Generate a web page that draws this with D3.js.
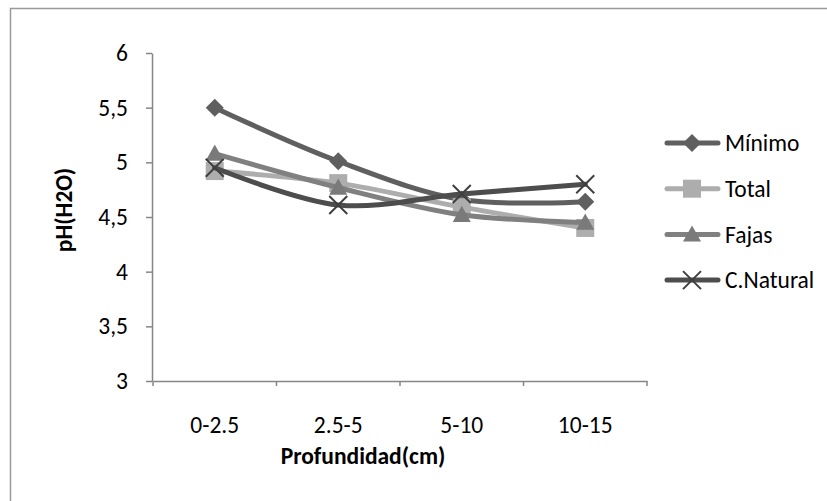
<!DOCTYPE html>
<meta charset="utf-8">
<script src="https://d3js.org/d3.v7.min.js"></script>
<style>
  body { margin: 0; background: #fff; }
  text { font-family: Calibri, Carlito, Lato, sans-serif; fill: #000; }
</style>
<div id="my_dataviz"></div>
<script>

    // categories and values
    var categories = ["0-2.5", "2.5-5", "5-10", "10-15"];
    var yTicks = [3, 3.5, 4, 4.5, 5, 5.5, 6];

    var minimo   = [5.50, 5.01, 4.66, 4.64];
    var total    = [4.92, 4.81, 4.59, 4.40];
    var fajas    = [5.08, 4.77, 4.52, 4.45];
    var cnatural = [4.95, 4.61, 4.71, 4.80];

    var seriesNames = ["Mínimo", "Total", "Fajas", "C.Natural"];

    var series = [
        { name: seriesNames[0], values: minimo,   color: "#5f5f5f", marker: "diamond" },
        { name: seriesNames[1], values: total,    color: "#adadad", marker: "square" },
        { name: seriesNames[2], values: fajas,    color: "#808080", marker: "triangle" },
        { name: seriesNames[3], values: cnatural, color: "#4d4d4d", marker: "x" }
    ];

    var W = 827, H = 501;
    var fontSize = 23.5;
    var svg = d3.select("#my_dataviz")
        .append("svg")
        .attr("width", W)
        .attr("height", H);

    svg.append("rect").attr("width", W).attr("height", H).attr("fill", "#fff");

    // chart border (runs off the right / bottom of the picture)
    svg.append("rect")
        .attr("x", 10.5).attr("y", 8.5)
        .attr("width", 840).attr("height", 520)
        .attr("fill", "none")
        .attr("stroke", "#9a9a9a")
        .attr("stroke-width", 1.5);

    var x = d3.scaleBand().domain(categories).range([153, 647]);
    var y = d3.scaleLinear().domain([3, 6]).range([381, 53]);

    var axisColor = "#868686";

    // Y axis
    var yAxis = svg.append("g")
        .attr("transform", "translate(152,0)")
        .call(d3.axisLeft(y)
            .tickValues(yTicks)
            .tickSize(6)
            .tickSizeOuter(0)
            .tickPadding(18)
            .tickFormat(function (d) { return String(d).replace(".", ","); }));
    yAxis.select(".domain").attr("stroke", axisColor).attr("stroke-width", 1.5);
    yAxis.selectAll(".tick line").attr("stroke", axisColor).attr("stroke-width", 1.5);
    yAxis.selectAll(".tick text").attr("font-size", fontSize).attr("fill", "#000")
        .style("font-family", "Calibri, Carlito, Lato, sans-serif");

    // X axis: line plus ticks on the band edges
    var xAxis = svg.append("g")
        .attr("transform", "translate(0,381)")
        .call(d3.axisBottom(x).tickSize(0).tickPadding(35));
    xAxis.select(".domain").attr("stroke", axisColor).attr("stroke-width", 1.5);
    xAxis.selectAll(".tick text").attr("font-size", fontSize).attr("fill", "#000")
        .style("font-family", "Calibri, Carlito, Lato, sans-serif");

    var edges = categories.map(function (c) { return x(c); }).concat([x.range()[1]]);
    xAxis.selectAll(".edge")
        .data(edges)
        .enter().append("line")
        .attr("x1", function (d) { return d; })
        .attr("x2", function (d) { return d; })
        .attr("y1", 0).attr("y2", 5)
        .attr("stroke", axisColor).attr("stroke-width", 1.5);

    // axis titles
    svg.append("text")
        .attr("x", 363).attr("y", 464)
        .attr("text-anchor", "middle")
        .attr("font-size", fontSize).attr("font-weight", "bold")
        .text("Profundidad(cm)");

    svg.append("text")
        .attr("transform", "translate(72,210) rotate(-90)")
        .attr("text-anchor", "middle")
        .attr("font-size", fontSize).attr("font-weight", "bold")
        .text("pH(H2O)");

    // marker drawing
    function marker(g, type, cx, cy, color) {
        if (type === "diamond") {
            var r = 9;
            g.append("path")
                .attr("d", "M" + cx + "," + (cy - r) + "L" + (cx + r) + "," + cy +
                    "L" + cx + "," + (cy + r) + "L" + (cx - r) + "," + cy + "Z")
                .attr("fill", color);
        } else if (type === "square") {
            var s = 9;
            g.append("rect")
                .attr("x", cx - s).attr("y", cy - s)
                .attr("width", 2 * s).attr("height", 2 * s)
                .attr("fill", color);
        } else if (type === "triangle") {
            var h = 9;
            g.append("path")
                .attr("d", "M" + cx + "," + (cy - h) + "L" + (cx + h) + "," + (cy + h * 0.8) +
                    "L" + (cx - h) + "," + (cy + h * 0.8) + "Z")
                .attr("fill", "#7a7a7a");
        } else {
            var k = 9;
            g.append("path")
                .attr("d", "M" + (cx - k) + "," + (cy - k) + "L" + (cx + k) + "," + (cy + k) +
                    "M" + (cx - k) + "," + (cy + k) + "L" + (cx + k) + "," + (cy - k))
                .attr("stroke", "#3f3f3f").attr("stroke-width", 2).attr("fill", "none");
        }
    }

    var line = d3.line()
        .x(function (d, i) { return x(categories[i]) + x.bandwidth() / 2; })
        .y(function (d) { return y(d); })
        .curve(d3.curveCatmullRom.alpha(0.5));

    series.forEach(function (s) {
        var g = svg.append("g");
        g.append("path")
            .datum(s.values)
            .attr("fill", "none")
            .attr("stroke", s.color)
            .attr("stroke-width", 5)
            .attr("stroke-linecap", "round")
            .attr("d", line);
        s.values.forEach(function (v, i) {
            marker(g, s.marker, x(categories[i]) + x.bandwidth() / 2, y(v), s.color);
        });
    });

    // legend
    var legend = svg.append("g");
    series.forEach(function (s, i) {
        var ly = 143 + i * 45.7;
        var g = legend.append("g");
        g.append("line")
            .attr("x1", 667).attr("x2", 718)
            .attr("y1", ly).attr("y2", ly)
            .attr("stroke", s.color).attr("stroke-width", 5)
            .attr("stroke-linecap", "round");
        marker(g, s.marker, 692, ly, s.color);
        g.append("text")
            .attr("x", 725).attr("y", ly)
            .attr("dy", "0.35em")
            .attr("font-size", fontSize)
            .text(s.name);
    });

</script>
